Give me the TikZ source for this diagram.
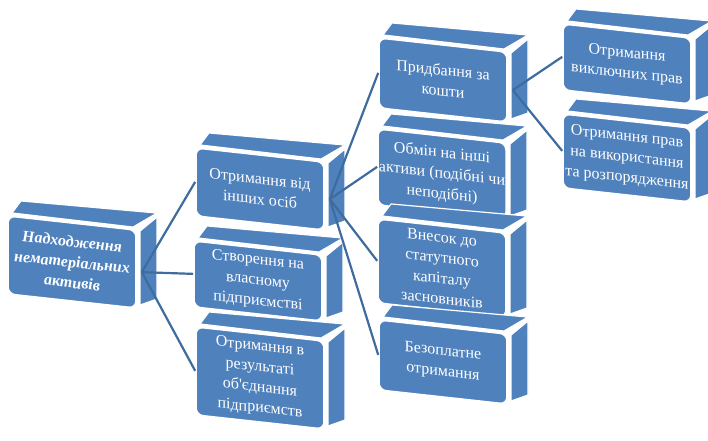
\documentclass[tikz,border=0pt]{standalone}
\usepackage{fontspec}
\setmainfont{Liberation Serif}
\usetikzlibrary{calc}
\definecolor{boxblue}{HTML}{4F81BD}
\definecolor{lineblue}{HTML}{3F6C9E}
\tikzset{
  frontface/.style={rectangle, rounded corners=7pt, minimum width=128pt,
    fill=boxblue, draw=white, line width=1.6pt, text=white, align=center,
    inner sep=1pt, font=\fontsize{16}{20.5}\selectfont, transform shape},
  sideface/.style={fill=boxblue, draw=white, line width=1.2pt, line join=round},
  conn/.style={draw=lineblue, line width=2.2pt},
  rootfont/.style={font=\fontsize{16}{20.5}\selectfont\bfseries\itshape}
}
\newcommand{\mycube}[6][]{%
  \begin{scope}[shift={(#3,#4)}, yslant=-0.11]
    \coordinate (#2-nw) at (-64,{-#5/2});
    \coordinate (#2-ne) at (64,{-#5/2});
    \coordinate (#2-se) at (64,{#5/2});
  \end{scope}
  \draw[sideface] ($(#2-nw)+(4,-3)$) -- ($(#2-nw)+(13,-15)$)
     -- ($(#2-ne)+(21,-17)$) -- ($(#2-ne)+(-3,-3)$) -- cycle;
  \draw[sideface] ($(#2-ne)+(4,1)$) -- ($(#2-ne)+(21,-13)$)
     -- ($(#2-se)+(21,-9)$) -- ($(#2-se)+(4,-3)$) -- cycle;
  \begin{scope}[shift={(#3,#4)}, yslant=-0.11]
    \node[frontface, minimum height=#5pt, #1] (#2) at (0,0) {#6};
  \end{scope}
  \coordinate (#2-out) at ($(#2.east)+(5,3)$);
}
\begin{document}
\begin{tikzpicture}[x=1pt, y=-1pt]
\useasboundingbox (0,0) rectangle (708,440);
% column 1
\mycube[rootfont]{root}{72}{262}{78}{Надходження\\нематеріальних\\активів}
% column 2
\mycube{oth}{260}{189}{68}{Отримання від\\інших осіб}
\mycube{own}{258}{281}{66}{Створення на\\власному\\підприємстві}
\mycube{mrg}{260}{378}{88}{Отримання в\\результаті\\об\textquotesingle єднання\\підприємств}
% column 3
\mycube{buy}{443}{80}{70}{Придбання за\\кошти}
\mycube{exc}{442}{174}{76}{Обмін на інші\\активи (подібні чи\\неподібні)}
\mycube{cap}{442}{268}{84}{Внесок до\\статутного\\капіталу\\засновників}
\mycube{free}{443}{362}{70}{Безоплатне\\отримання}
% column 4
\mycube{excl}{627}{64}{66}{Отримання\\виключних прав}
\mycube{use}{627}{158}{74}{Отримання прав\\на використання\\та розпорядження}
% connectors
\draw[conn] (root-out) -- (oth.west);
\draw[conn] (root-out) -- (own.west);
\draw[conn] (root-out) -- (mrg.west);
\draw[conn] (oth-out) -- (buy.west);
\draw[conn] (oth-out) -- (exc.west);
\draw[conn] (oth-out) -- (cap.west);
\draw[conn] (oth-out) -- (free.west);
\draw[conn] (buy-out) -- (excl.west);
\draw[conn] (buy-out) -- (use.west);
\end{tikzpicture}
\end{document}
